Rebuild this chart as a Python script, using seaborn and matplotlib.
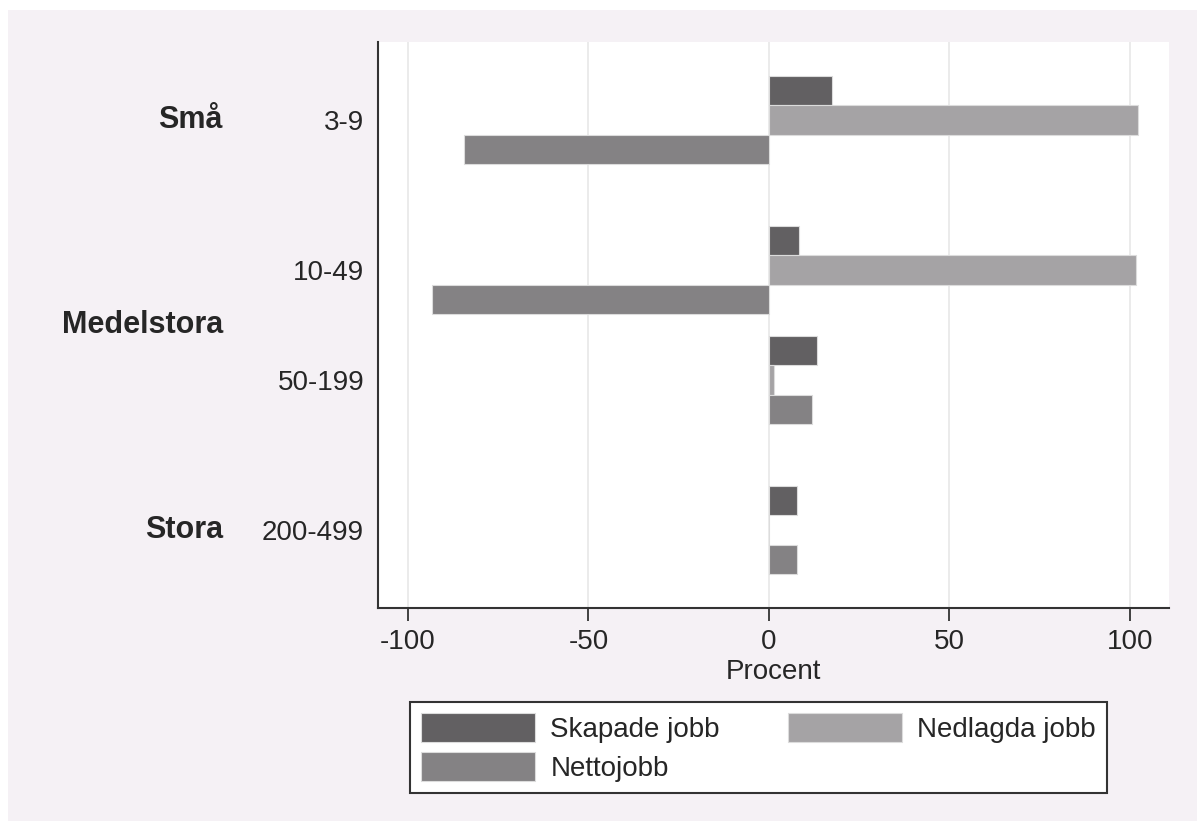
import numpy as np
import pandas as pd
import matplotlib.pyplot as plt
from matplotlib.patches import Rectangle
from matplotlib.transforms import blended_transform_factory
import seaborn as sns

# Data
sizes = ['3-9', '10-49', '50-199', '200-499']
groups = ['Små', 'Medelstora', 'Medelstora', 'Stora']
skapade = [17.5, 8.3, 13.2, 7.8]
nedlagda = [102.2, 101.7, 1.4, 0.0]
netto = [-84.5, -93.4, 11.8, 7.8]
series = ['Skapade jobb', 'Nedlagda jobb', 'Nettojobb']
colors = ['#626062', '#a5a3a5', '#848284']

# y positions: one unit per size class, extra gap between outer groups
gap = 0.364
pos = []
g_idx = 0
for i, g in enumerate(groups):
    if i > 0 and g != groups[i - 1]:
        g_idx += 1
    pos.append(i + g_idx * gap)

df = pd.DataFrame({
    'pos': pos * 3,
    'value': skapade + nedlagda + netto,
    'serie': np.repeat(series, len(sizes)),
})

sns.set_style('white')
plt.rcParams['font.family'] = ['Liberation Sans', 'DejaVu Sans']
FS = 20

W, H = 1197, 821
fig = plt.figure(figsize=(W / 100, H / 100), dpi=100)
fig.patch.set_facecolor('white')
fig.patches.append(Rectangle((8 / W, 0), 1, (H - 10) / H, transform=fig.transFigure,
                             facecolor='#f5f1f5', edgecolor='none', zorder=-10))

ax = fig.add_axes([378 / W, (H - 608) / H, (1169 - 378) / W, (608 - 42) / H])
ax.set_facecolor('white')

sns.barplot(data=df, x='value', y='pos', hue='serie', hue_order=series, orient='h',
            native_scale=True, palette=colors, edgecolor='#dcdcdc', linewidth=0.8,
            saturation=1, ax=ax)

handles, labels = ax.get_legend_handles_labels()
ax.get_legend().remove()

ax.set_xlim(-108.3, 110.8)
ax.set_ylim(4.436, -0.709)
ax.set_xticks([-100, -50, 0, 50, 100])
ax.set_xticklabels(['-100', '-50', '0', '50', '100'], fontsize=FS)
ax.set_yticks(pos)
ax.set_yticklabels(sizes, fontsize=FS)
ax.tick_params(axis='y', length=0, pad=10)
ax.tick_params(axis='x', direction='out', length=9, width=1.3, color='#333333', pad=6, bottom=True)
ax.grid(axis='x', color='#e8e8e8', linewidth=1.2)
ax.set_axisbelow(True)
ax.set_xlabel('Procent', fontsize=FS, labelpad=3)
ax.set_ylabel('')

for side in ['top', 'right']:
    ax.spines[side].set_visible(False)
for side in ['left', 'bottom']:
    ax.spines[side].set_color('#333333')
    ax.spines[side].set_linewidth(1.5)

# outer group labels, centred on their size classes
trans = blended_transform_factory(ax.transAxes, ax.transData)
for g in dict.fromkeys(groups):
    ys = [p for p, gg in zip(pos, groups) if gg == g]
    ax.text(-(378 - 223) / (1169 - 378), np.mean(ys), g, transform=trans,
            ha='right', va='center', fontsize=22, fontweight='bold')

# legend filled row by row: Skapade, Nedlagda / Netto
order = [0, 2, 1]
leg = fig.legend([handles[i] for i in order], [labels[i] for i in order],
                 loc='upper left', ncol=2, bbox_to_anchor=(410 / W, 1 - 702 / H),
                 bbox_transform=fig.transFigure, borderaxespad=0, fontsize=FS,
                 frameon=True, fancybox=False, handlelength=4.1, handleheight=1.2,
                 labelspacing=0.35, handletextpad=0.55, borderpad=0.4,
                 columnspacing=2.45)
leg.get_frame().set_edgecolor('#333333')
leg.get_frame().set_linewidth(1.5)
leg.get_frame().set_facecolor('white')
leg.get_frame().set_alpha(1)
for h in leg.legend_handles:
    h.set_edgecolor('#dcdcdc')

fig.savefig('out.png', dpi=100)
